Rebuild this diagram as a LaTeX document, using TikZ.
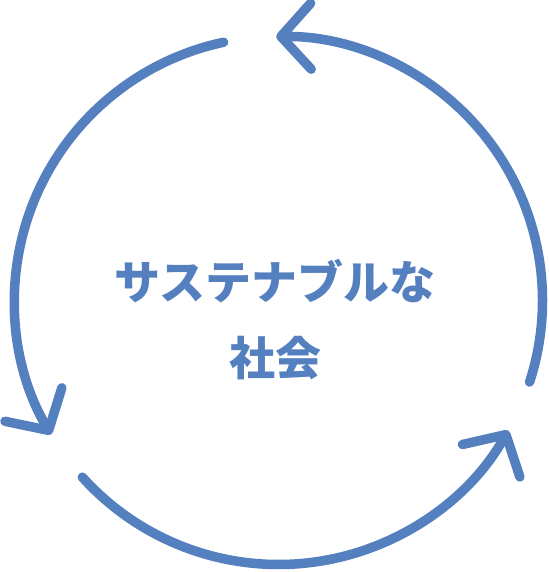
\documentclass[tikz,border=0pt]{standalone}
\usepackage{fontspec}
\newfontfamily\jpfont{Noto Sans CJK JP}
\usetikzlibrary{arrows.meta,calc}
\definecolor{cycleblue}{RGB}{84,128,192}

\begin{document}
\begin{tikzpicture}[x=1bp,y=1bp,
  cyclearc/.style={draw=cycleblue,line width=9.5bp,line cap=round,
    -{Straight Barb[length=30bp,width=66bp,line cap=round,line join=round]}},
  centertext/.style={text=cycleblue,align=center,
    font=\jpfont\bfseries\fontsize{46bp}{76bp}\selectfont}]
\useasboundingbox (0,0) rectangle (549,572);
\coordinate (O) at (278.5,271.5);

% three arcs of the cycle
\foreach \a in {102,222,342}{
  \draw[cyclearc] ($(O)+(\a:264)$) arc[start angle=\a, delta angle=108.5, radius=264];
}

\node[centertext] (society) at (275,252) {サステナブルな\\社会};
\end{tikzpicture}
\end{document}
